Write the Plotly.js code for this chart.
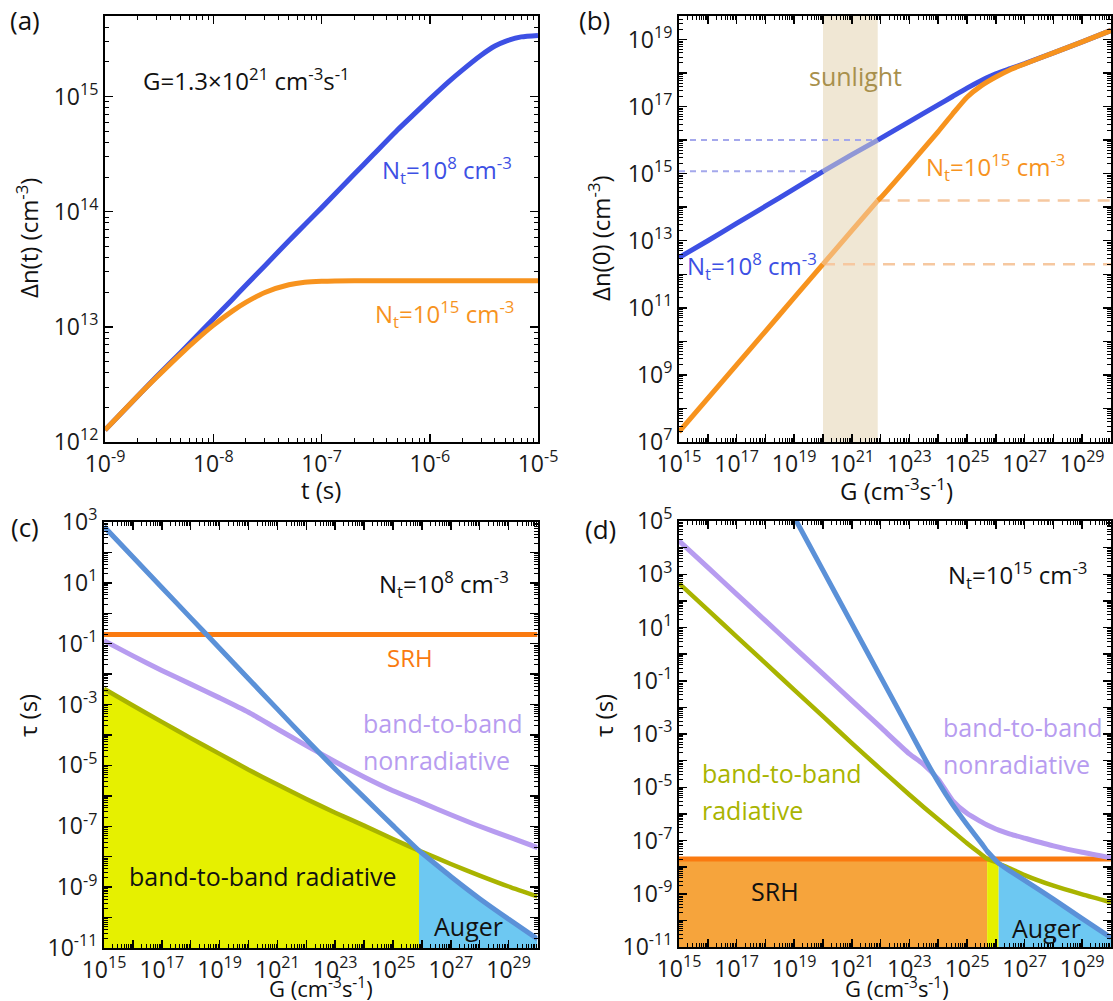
<!DOCTYPE html>
<html>
<head>
<meta charset="utf-8">
<script src="https://cdn.plot.ly/plotly-3.0.1.min.js"></script>
<style>html,body{margin:0;padding:0;background:#fff;}#chart{width:1113px;height:1001px;}</style>
</head>
<body>
<div id="chart"></div>
<script>
// ---------------- DATA ----------------
// Panel (a): transient carrier density, G = 1.3e21 cm^-3 s^-1
const tA = [1e-9, 2e-9, 3e-9, 5e-9, 7e-9, 1e-8, 1.5e-8, 2e-8, 3e-8, 5e-8, 7e-8, 1e-7, 2e-7, 3e-7, 5e-7, 7e-7, 1e-6, 1.5e-6, 2e-6, 3e-6, 4e-6, 5e-6, 7e-6, 1e-5];
const dnA_Nt8  = [1.27e12, 2.5e12, 3.7e12, 6.0e12, 8.3e12, 1.17e13, 1.73e13, 2.3e13, 3.4e13, 5.6e13, 7.7e13, 1.08e14, 2.12e14, 3.12e14, 5.1e14, 6.9e14, 9.5e14, 1.35e15, 1.7e15, 2.3e15, 2.75e15, 3.02e15, 3.3e15, 3.4e15];
const dnA_Nt15 = [1.27e12, 2.5e12, 3.65e12, 5.8e12, 7.74e12, 1.03e13, 1.37e13, 1.63e13, 1.99e13, 2.32e13, 2.44e13, 2.49e13, 2.52e13, 2.52e13, 2.52e13, 2.52e13, 2.52e13, 2.52e13, 2.52e13, 2.52e13, 2.52e13, 2.52e13, 2.52e13, 2.52e13];

// Panel (b): steady-state carrier density vs generation rate
const G_b = [1e15, 1e16, 1e17, 1e18, 1e19, 1e20, 1e21, 7.94e21, 1e22, 1e23, 1e24, 3.16e24, 1e25, 3.16e25, 1e26, 3.16e26, 1e27, 1e28, 1e29, 1e30];
const dn0_Nt8  = [3.16e12, 1.0e13, 3.3e13, 1.07e14, 3.5e14, 1.17e15, 3.7e15, 1.0e16, 1.12e16, 3.55e16, 1.12e17, 2.0e17, 3.55e17, 6.0e17, 9.5e17, 1.35e18, 1.9e18, 4.0e18, 8.5e18, 1.86e19];
const dn0_Nt15 = [2.0e7, 2.0e8, 2.0e9, 2.0e10, 2.0e11, 2.0e12, 2.0e13, 1.58e14, 1.9e14, 1.8e15, 1.8e16, 6.0e16, 1.9e17, 4.2e17, 7.6e17, 1.26e18, 1.86e18, 4.0e18, 8.5e18, 1.86e19];
const sunLo = 1e20, sunHi = 7.94e21;

// Panel (c): lifetimes, Nt = 1e8 cm^-3
const G_c = [1e15, 1e16, 1e17, 1e18, 1e19, 1e20, 1e21, 1e22, 1e23, 1e24, 1e25, 7.94e25, 1e26, 1e27, 1e28, 1e29, 1e30];
const tauAug_c = [708, 70.8, 7.08, 0.708, 0.0708, 7.08e-3, 7.08e-4, 7.08e-5, 7.6e-6, 8.9e-7, 1.05e-7, 1.58e-8, 1.32e-8, 2.24e-9, 4.17e-10, 8.9e-11, 2.0e-11];
const tauNR_c  = [0.126, 0.0398, 0.0132, 4.7e-3, 1.66e-3, 5.6e-4, 1.58e-4, 4.5e-5, 1.32e-5, 4.2e-6, 1.48e-6, 6.6e-7, 6.0e-7, 2.4e-7, 1.0e-7, 4.5e-8, 2.0e-8];
const tauRad_c = [3.3e-3, 9.3e-4, 2.7e-4, 7.9e-5, 2.4e-5, 7.2e-6, 2.34e-6, 7.9e-7, 2.8e-7, 1.05e-7, 3.8e-8, 1.58e-8, 1.45e-8, 5.75e-9, 2.4e-9, 1.05e-9, 5.0e-10];
const tauSRH_c = 0.2;
const crossC = 7.94e25;

// Panel (d): lifetimes, Nt = 1e15 cm^-3
const G_d = [1e15, 1e16, 1e17, 1e18, 1e19, 1e20, 1e21, 1e22, 1e23, 3.16e23, 1e24, 3.16e24, 1e25, 3.16e25, 5.0e25, 1e26, 1.26e26, 3.16e26, 1e27, 1e28, 1e29, 1e30];
const tauAug_d = [1.4e13, 1.4e11, 1.4e9, 1.4e7, 1.4e5, 1.4e3, 14, 0.14, 1.4e-3, 1.4e-4, 1.58e-5, 2.24e-6, 4.0e-7, 7.9e-8, 4.0e-8, 1.78e-8, 1.38e-8, 7.1e-9, 3.16e-9, 6.3e-10, 1.17e-10, 2.24e-11];
const tauNR_d  = [1.8e4, 1.8e3, 180, 18, 1.8, 0.18, 0.018, 1.8e-3, 1.8e-4, 7.1e-5, 2.0e-5, 3.16e-6, 1.05e-6, 5.0e-7, 3.8e-7, 2.7e-7, 2.45e-7, 1.74e-7, 1.23e-7, 6.3e-8, 3.6e-8, 2.24e-8];
const tauRad_d = [457, 45.7, 4.57, 0.457, 0.0457, 4.57e-3, 4.57e-4, 4.8e-5, 5.25e-6, 1.78e-6, 6.3e-7, 2.24e-7, 7.9e-8, 3.0e-8, 2.04e-8, 1.58e-8, 1.38e-8, 8.9e-9, 5.0e-9, 2.0e-9, 9.5e-10, 4.8e-10];
const tauSRH_d = 2.0e-8;
const crossD1 = 5.0e25, crossD2 = 1.26e26;

// ---------------- STYLE ----------------
const W = 1113, H = 1001;
const FONT = 'Open Sans, Liberation Sans, Arial, sans-serif';
const C = {
  blueA: '#3d50e4', orangeA: '#f7931e',
  blueLight: '#9097d6', orangeLight: '#f5b46c',
  blueDash: '#a4a8ec', orangeDash: '#f6c8a0',
  sun: '#f0e7d4', sunText: '#a8904c',
  aug: '#5b91d8', nr: '#b79cf0', rad: '#a9b400', srh: '#fa7a10',
  fillY: '#e6f000', fillB: '#6dc8f2', fillO: '#f6a43c'
};
const yBottomC = 1e-11, yBottomD = 1e-11;
const TICKSIZE = 23;
const LOW = -4; // small upward shift of the lower row (px)

function logAxis(lo, hi, labelEvery, labelPhase, domain, anchor) {
  const tickvals = [], ticktext = [], minorvals = [];
  for (let k = Math.ceil(lo); k <= Math.floor(hi); k++) {
    tickvals.push(Math.pow(10, k));
    const show = (((k - labelPhase) % labelEvery) + labelEvery) % labelEvery === 0;
    ticktext.push(show ? '10<sup>' + k + '</sup>' : '');
  }
  for (let k = Math.floor(lo); k < Math.ceil(hi); k++)
    for (let m = 2; m <= 9; m++) minorvals.push(m * Math.pow(10, k));
  return {
    type: 'log', range: [lo, hi], domain: domain, anchor: anchor,
    tickmode: 'array', tickvals: tickvals, ticktext: ticktext,
    ticks: 'inside', ticklen: 8, tickwidth: 1.5, tickcolor: '#000',
    showline: true, linecolor: '#000', linewidth: 2, mirror: 'allticks',
    showgrid: false, zeroline: false, automargin: false, fixedrange: true,
    tickfont: {family: FONT, size: TICKSIZE, color: '#1a1a1a'},
    minor: {tickmode: 'array', tickvals: minorvals, ticks: 'inside', ticklen: 4, tickwidth: 1, tickcolor: '#000', showgrid: false}
  };
}

const dxA = [105/W, 538/W], dyTop = [1-442/H, 1-16/H];
const dxB = [679/W, 1111/W];
const dxC = [104/W, 537.5/W], dyC = [1-(952+LOW)/H, 1-(526+LOW)/H];
const dyD = [1-(951+LOW)/H, 1-(525+LOW)/H];

function line(x, y, color, width, xa, ya, dash) {
  return {x: x, y: y, xaxis: xa, yaxis: ya, mode: 'lines', type: 'scatter', hoverinfo: 'skip', showlegend: false,
    line: {color: color, width: width, dash: dash || 'solid', shape: 'spline', smoothing: 0.6}};
}
function poly(x, y, color, xa, ya) {
  return {x: x, y: y, xaxis: xa, yaxis: ya, mode: 'lines', type: 'scatter', fill: 'toself', fillcolor: color,
    line: {width: 0, color: color}, hoverinfo: 'skip', showlegend: false};
}
function sliceBy(xs, ys, lo, hi) {
  const ox = [], oy = [];
  xs.forEach((v, i) => { if (v >= lo * 0.999 && v <= hi * 1.001) { ox.push(v); oy.push(ys[i]); } });
  return [ox, oy];
}

const traces = [];
// ---- (a)
traces.push(line(tA, dnA_Nt8, C.blueA, 5, 'x', 'y'));
traces.push(line(tA, dnA_Nt15, C.orangeA, 5, 'x', 'y'));

// ---- (b)
traces.push(poly([sunLo, sunHi, sunHi, sunLo], [1e6, 1e6, 1e21, 1e21], C.sun, 'x2', 'y2'));
const iLo = G_b.indexOf(sunLo), iHi = G_b.indexOf(sunHi);
traces.push(line([G_b[0], sunLo], [dn0_Nt8[iLo], dn0_Nt8[iLo]], C.blueDash, 2, 'x2', 'y2', '6px,5px'));
traces.push(line([G_b[0], sunHi], [dn0_Nt8[iHi], dn0_Nt8[iHi]], C.blueDash, 2, 'x2', 'y2', '6px,5px'));
traces.push(line([sunLo, G_b[G_b.length-1]], [dn0_Nt15[iLo], dn0_Nt15[iLo]], C.orangeDash, 2.5, 'x2', 'y2', '12px,8px'));
traces.push(line([sunHi, G_b[G_b.length-1]], [dn0_Nt15[iHi], dn0_Nt15[iHi]], C.orangeDash, 2.5, 'x2', 'y2', '12px,8px'));
[[dn0_Nt8, C.blueA, C.blueLight], [dn0_Nt15, C.orangeA, C.orangeLight]].forEach(([ys, col, light]) => {
  let s = sliceBy(G_b, ys, G_b[0], sunLo); traces.push(line(s[0], s[1], col, 5, 'x2', 'y2'));
  s = sliceBy(G_b, ys, sunLo, sunHi); traces.push(line(s[0], s[1], light, 5, 'x2', 'y2'));
  s = sliceBy(G_b, ys, sunHi, G_b[G_b.length-1]); traces.push(line(s[0], s[1], col, 5, 'x2', 'y2'));
});

// ---- (c)
let s = sliceBy(G_c, tauRad_c, G_c[0], crossC);
traces.push(poly(s[0].concat([crossC, G_c[0]]), s[1].concat([yBottomC, yBottomC]), C.fillY, 'x3', 'y3'));
s = sliceBy(G_c, tauAug_c, crossC, G_c[G_c.length-1]);
traces.push(poly(s[0].concat([G_c[G_c.length-1], crossC]), s[1].concat([yBottomC, yBottomC]), C.fillB, 'x3', 'y3'));
traces.push(line(G_c, tauRad_c, C.rad, 4.5, 'x3', 'y3'));
traces.push(line(G_c, tauNR_c, C.nr, 5, 'x3', 'y3'));
traces.push(line([G_c[0], G_c[G_c.length-1]], [tauSRH_c, tauSRH_c], C.srh, 5, 'x3', 'y3'));
traces.push(line(G_c, tauAug_c, C.aug, 5, 'x3', 'y3'));

// ---- (d)
traces.push(poly([G_d[0], crossD1, crossD1, G_d[0]], [tauSRH_d, tauSRH_d, yBottomD, yBottomD], C.fillO, 'x4', 'y4'));
s = sliceBy(G_d, tauRad_d, crossD1, crossD2);
traces.push(poly(s[0].concat([crossD2, crossD1]), s[1].concat([yBottomD, yBottomD]), C.fillY, 'x4', 'y4'));
s = sliceBy(G_d, tauAug_d, crossD2, G_d[G_d.length-1]);
traces.push(poly(s[0].concat([G_d[G_d.length-1], crossD2]), s[1].concat([yBottomD, yBottomD]), C.fillB, 'x4', 'y4'));
traces.push(line([G_d[0], G_d[G_d.length-1]], [tauSRH_d, tauSRH_d], C.srh, 5, 'x4', 'y4'));
traces.push(line(G_d, tauRad_d, C.rad, 4.5, 'x4', 'y4'));
traces.push(line(G_d, tauNR_d, C.nr, 5, 'x4', 'y4'));
traces.push(line(G_d, tauAug_d, C.aug, 5, 'x4', 'y4'));

// ---------------- ANNOTATIONS ----------------
function ann(text, px, py, o) {
  o = o || {};
  return {text: text, x: px / W, y: 1 - py / H, xref: 'paper', yref: 'paper', showarrow: false,
    xanchor: o.xanchor || 'center', yanchor: o.yanchor || 'middle', textangle: o.angle || 0, align: o.align || 'center',
    borderpad: 0, font: {family: FONT, size: o.size || 24, color: o.color || '#111'}};
}
const cm3 = 'cm<sup>-3</sup>';
const L = LOW;
const annotations = [
  ann('(a)', 25, 20, {size: 26}), ann('(b)', 594, 20, {size: 26}),
  ann('(c)', 25, 531 + L, {size: 26}), ann('(d)', 600, 533 + L, {size: 26}),
  // axis titles
  ann('t (s)', 321, 489), ann('G (cm<sup>-3</sup>s<sup>-1</sup>)', 897, 489),
  ann('G (cm<sup>-3</sup>s<sup>-1</sup>)', 321, 987, {size: 22}),
  ann('G (cm<sup>-3</sup>s<sup>-1</sup>)', 897, 987, {size: 22}),
  ann('Δn(t) (' + cm3 + ')', 28, 238, {angle: -90}), ann('Δn(0) (' + cm3 + ')', 600, 238, {angle: -90}),
  ann('τ (s)', 27, 720 + L, {angle: -90}), ann('τ (s)', 603, 720 + L, {angle: -90}),
  // panel (a)
  ann('G=1.3×10<sup>21</sup> cm<sup>-3</sup>s<sup>-1</sup>', 246, 80),
  ann('N<sub>t</sub>=10<sup>8</sup> ' + cm3, 447, 170, {color: C.blueA}),
  ann('N<sub>t</sub>=10<sup>15</sup> ' + cm3, 444, 314, {color: C.orangeA}),
  // panel (b)
  ann('sunlight', 855, 76, {color: C.sunText, size: 25}),
  ann('N<sub>t</sub>=10<sup>15</sup> ' + cm3, 995, 167, {color: C.orangeA}),
  ann('N<sub>t</sub>=10<sup>8</sup> ' + cm3, 752, 266, {color: C.blueA}),
  // panel (c)
  ann('N<sub>t</sub>=10<sup>8</sup> ' + cm3, 444, 588 + L),
  ann('SRH', 410, 661 + L, {color: C.srh}),
  ann('band-to-band', 362, 727 + L, {color: C.nr, xanchor: 'left', size: 25}),
  ann('nonradiative', 362, 764 + L, {color: C.nr, xanchor: 'left', size: 25}),
  ann('band-to-band radiative', 263, 880 + L, {size: 25}),
  ann('Auger', 468, 930 + L, {size: 25}),
  // panel (d)
  ann('N<sub>t</sub>=10<sup>15</sup> ' + cm3, 1017, 579 + L),
  ann('band-to-band', 942, 731 + L, {color: C.nr, xanchor: 'left', size: 25}),
  ann('nonradiative', 942, 768 + L, {color: C.nr, xanchor: 'left', size: 25}),
  ann('band-to-band', 701, 777 + L, {color: C.rad, xanchor: 'left', size: 25}),
  ann('radiative', 701, 814 + L, {color: C.rad, xanchor: 'left', size: 25}),
  ann('SRH', 775, 895 + L, {size: 25}),
  ann('Auger', 1046, 932 + L, {size: 25})
];

const layout = {
  width: W, height: H, margin: {l: 0, r: 0, t: 0, b: 0}, autosize: false,
  paper_bgcolor: '#fff', plot_bgcolor: 'rgba(0,0,0,0)', showlegend: false,
  font: {family: FONT, color: '#111'},
  xaxis: logAxis(-9, -5, 1, 0, dxA, 'y'),
  yaxis: logAxis(12, 15.7, 1, 0, dyTop, 'x'),
  xaxis2: logAxis(15, 30, 2, 15, dxB, 'y2'),
  yaxis2: logAxis(7, 19.7, 2, 7, dyTop, 'x2'),
  xaxis3: logAxis(15, 30, 2, 15, dxC, 'y3'),
  yaxis3: logAxis(-11, 3, 2, 3, dyC, 'x3'),
  xaxis4: logAxis(15, 30, 2, 15, dxB, 'y4'),
  yaxis4: logAxis(-11, 5, 2, 5, dyD, 'x4'),
  annotations: annotations
};
Plotly.newPlot('chart', traces, layout, {staticPlot: true, displayModeBar: false});
</script>
</body>
</html>
